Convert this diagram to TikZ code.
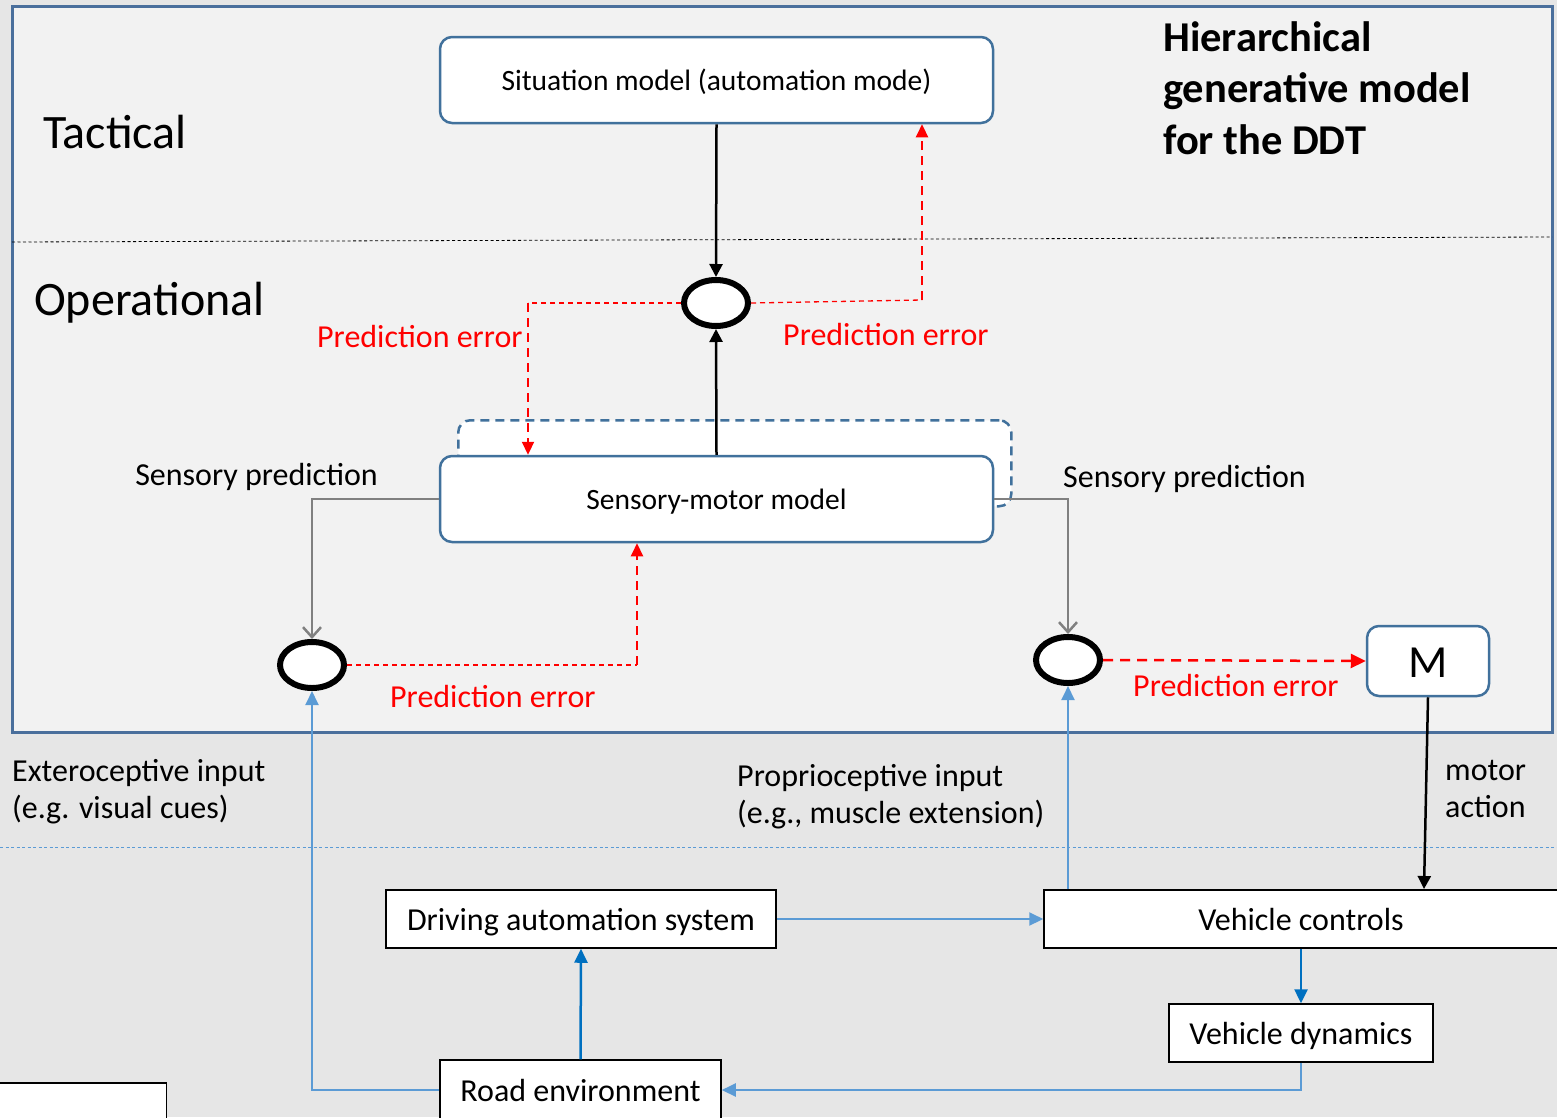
\documentclass[tikz,border=0pt]{standalone}
\usepackage{fontspec}
\setmainfont{Carlito}
\usetikzlibrary{arrows.meta,shapes.geometric}
\definecolor{panel}{HTML}{F2F2F2}
\definecolor{frameblue}{HTML}{4A6F9C}
\definecolor{boxblue}{HTML}{41719C}
\definecolor{lblue}{HTML}{5B9BD5}
\definecolor{dblue}{HTML}{0070C0}
\definecolor{bgray}{HTML}{E6E6E6}
\definecolor{errred}{HTML}{FF0000}
\tikzset{
  rbox/.style={draw=boxblue, line width=2.5pt, fill=white, rounded corners=12pt, inner sep=0pt, text height=26pt, text depth=6pt},
  sbox/.style={draw=black, line width=1.5pt, fill=white, inner sep=0pt, text height=28pt, text depth=6pt},
  comp/.style={ellipse, draw=black, line width=6pt, fill=white, minimum width=64pt, minimum height=46pt, inner sep=0pt},
  blackarr/.style={draw=black, line width=2.5pt, -{Triangle[length=13pt,width=13pt]}},
  grayarr/.style={draw=gray, line width=2.5pt, -{Straight Barb[length=10pt,width=18pt,line width=2.5pt]}},
  errthin/.style={draw=errred, line width=1.3pt, dash pattern=on 5pt off 4pt},
  errarr/.style={draw=errred, line width=2.2pt, dash pattern=on 9pt off 6pt, -{Triangle[length=13pt,width=12pt]}},
  errarrb/.style={draw=errred, line width=2.5pt, dash pattern=on 10pt off 7pt, -{Triangle[length=15pt,width=14pt]}},
  larr/.style={draw=lblue, line width=2pt, -{Triangle[length=14pt,width=13pt]}},
  darr/.style={draw=dblue, line width=2.5pt, -{Triangle[length=14pt,width=13pt]}},
  lbl/.style={inner sep=0pt, font=\fontsize{32}{37.5}\selectfont},
  errlbl/.style={inner sep=0pt, text=errred, font=\fontsize{32}{37}\selectfont},
  boxtxt/.style={font=\fontsize{29.5}{34}\selectfont},
}
\begin{document}
\begin{tikzpicture}[x=1pt,y=-1pt]
\fill[bgray] (0,0) rectangle (1557,1117);
\useasboundingbox (0,0) rectangle (1557,1117);
% panel
\draw[frameblue, line width=3pt, fill=panel] (12,6) rectangle (1552,732);
\draw[black, line width=0.8pt, dash pattern=on 3pt off 2.5pt] (12,242) -- (1552,237);
\draw[lblue, line width=1pt, dash pattern=on 3pt off 2.5pt] (0,847) -- (1557,847);

% texts
\node[lbl, anchor=base west, font=\fontsize{48}{54}\selectfont] (tac) at (43,148) {Tactical};
\node[lbl, anchor=base west, font=\fontsize{48}{54}\selectfont] (ope) at (34,315) {Operational};
\node[inner sep=0pt, anchor=north west, align=left, font=\bfseries\fontsize{42.5}{51.5}\selectfont] (title) at (1163,21) {Hierarchical\\generative model\\for the DDT};

% boxes
\node[rbox, draw=boxblue, dash pattern=on 9pt off 6pt, minimum width=553pt, minimum height=86pt, anchor=north west] (smdash) at (457,419) {};
\node[rbox, minimum width=553pt, minimum height=86pt, boxtxt] (sit) at (716.5,80) {Situation model (automation mode)};
\node[rbox, minimum width=553pt, minimum height=86pt, boxtxt] (smm) at (716.5,499) {Sensory-motor model};
\node[rbox, minimum width=122pt, minimum height=70pt, text height=40pt, text depth=8pt, font=\fontsize{46}{50}\selectfont] (M) at (1428,661) {M};

\node[comp] (ctop) at (716,303) {};
\node[comp] (cleft) at (312,665) {};
\node[comp] (cright) at (1068,660) {};

\node[sbox, minimum width=390pt, minimum height=58pt, lbl] (das) at (581,919) {Driving automation system};
\node[sbox, minimum width=514pt, minimum height=58pt, lbl] (vc) at (1301,919) {Vehicle controls};
\node[sbox, minimum width=264pt, minimum height=58pt, lbl] (vd) at (1301,1033) {Vehicle dynamics};
\node[sbox, minimum width=281pt, minimum height=60pt, lbl] (re) at (580.5,1090) {Road environment};
\node[sbox, minimum width=170pt, minimum height=40pt, anchor=north east] (blank) at (167,1082) {};

% labels
\node[lbl, anchor=base east] (spl) at (378,485) {Sensory prediction};
\node[lbl, anchor=base west] (spr) at (1063,487) {Sensory prediction};
\node[errlbl, anchor=base west] (pe1) at (317,347) {Prediction error};
\node[errlbl, anchor=base west] (pe2) at (783,345) {Prediction error};
\node[errlbl, anchor=base west] (pe3) at (390,707) {Prediction error};
\node[errlbl, anchor=base west] (pe4) at (1133,696) {Prediction error};
\node[lbl, anchor=north west, align=left] (ext) at (12,759) {Exteroceptive input\\(e.g. visual cues)};
\node[lbl, anchor=north west, align=left] (pro) at (737,764) {Proprioceptive input\\(e.g., muscle extension)};
\node[lbl, anchor=north west, align=left] (mot) at (1445,760) {motor\\action};

% corner points of the error paths
\coordinate (e1) at (528,303);
\coordinate (e2) at (922,300);
\coordinate (e3) at (637,665);

% connectors
\draw[blackarr] (sit.south) -- (ctop.north);
\draw[blackarr] (smm.north) -- (ctop.south);
\draw[errthin] (ctop.west) -- (e1);
\draw[errarr] (e1) -- (e1 |- smm.north);
\draw[errthin] (ctop.east) -- (e2);
\draw[errarr] (e2) -- (e2 |- sit.south);
\draw[errthin] (cleft.east) -- (e3);
\draw[errarr] (e3) -- (e3 |- smm.south);
\draw[errarrb] (cright.east) -- (M.west);
\draw[grayarr] (smm.west) -| (cleft.north);
\draw[grayarr] (smm.east) -| (cright.north);
\draw[larr] (re.west) -| (cleft.south);
\draw[larr] (vc.north -| cright.south) -- (cright.south);
\draw[blackarr] (M.south) -- (1424,889);
\draw[larr] (das.east) -- (vc.west);
\draw[darr] (re.north) -- (das.south);
\draw[darr] (vc.south) -- (vd.north);
\draw[larr] (vd.south) |- (re.east);
\end{tikzpicture}
\end{document}
